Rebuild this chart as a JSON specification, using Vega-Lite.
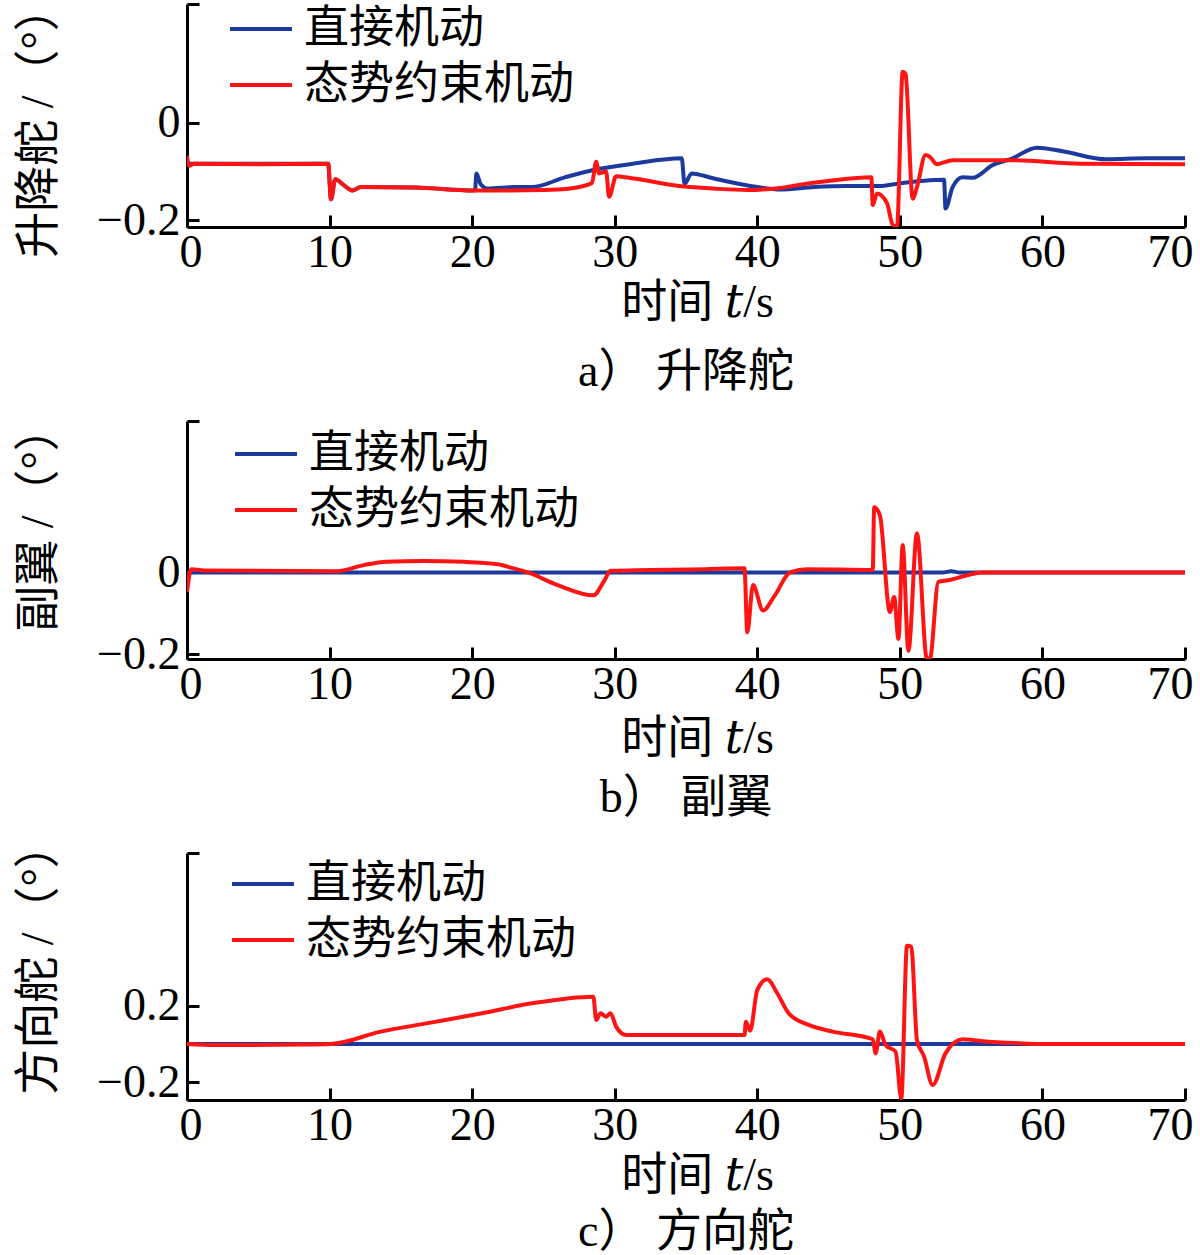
{
  "$schema": "https://vega.github.io/schema/vega-lite/v6.json",
  "background": "white",
  "padding": {"left": 15, "top": -16, "right": 0, "bottom": 0},
  "datasets": {
    "elevator": [
      {"t": 0, "v": -0.084, "s": "直接机动"},
      {"t": 9.9, "v": -0.084, "s": "直接机动"},
      {"t": 10.1, "v": -0.157, "s": "直接机动"},
      {"t": 10.4, "v": -0.116, "s": "直接机动"},
      {"t": 11.0, "v": -0.128, "s": "直接机动"},
      {"t": 11.6, "v": -0.139, "s": "直接机动"},
      {"t": 12.2, "v": -0.132, "s": "直接机动"},
      {"t": 16.0, "v": -0.133, "s": "直接机动"},
      {"t": 20.2, "v": -0.139, "s": "直接机动"},
      {"t": 20.3, "v": -0.104, "s": "直接机动"},
      {"t": 20.6, "v": -0.126, "s": "直接机动"},
      {"t": 21.1, "v": -0.135, "s": "直接机动"},
      {"t": 23.0, "v": -0.132, "s": "直接机动"},
      {"t": 24.2, "v": -0.132, "s": "直接机动"},
      {"t": 26.5, "v": -0.112, "s": "直接机动"},
      {"t": 28.5, "v": -0.097, "s": "直接机动"},
      {"t": 31.3, "v": -0.084, "s": "直接机动"},
      {"t": 34.7, "v": -0.073, "s": "直接机动"},
      {"t": 34.9, "v": -0.125, "s": "直接机动"},
      {"t": 35.4, "v": -0.104, "s": "直接机动"},
      {"t": 36.9, "v": -0.114, "s": "直接机动"},
      {"t": 40.0, "v": -0.132, "s": "直接机动"},
      {"t": 41.6, "v": -0.137, "s": "直接机动"},
      {"t": 44.0, "v": -0.132, "s": "直接机动"},
      {"t": 46.3, "v": -0.130, "s": "直接机动"},
      {"t": 48.6, "v": -0.130, "s": "直接机动"},
      {"t": 49.8, "v": -0.125, "s": "直接机动"},
      {"t": 53.1, "v": -0.117, "s": "直接机动"},
      {"t": 53.2, "v": -0.176, "s": "直接机动"},
      {"t": 53.7, "v": -0.132, "s": "直接机动"},
      {"t": 54.4, "v": -0.112, "s": "直接机动"},
      {"t": 55.1, "v": -0.113, "s": "直接机动"},
      {"t": 56.5, "v": -0.087, "s": "直接机动"},
      {"t": 57.9, "v": -0.073, "s": "直接机动"},
      {"t": 59.6, "v": -0.051, "s": "直接机动"},
      {"t": 61.5, "v": -0.059, "s": "直接机动"},
      {"t": 64.5, "v": -0.075, "s": "直接机动"},
      {"t": 67.3, "v": -0.073, "s": "直接机动"},
      {"t": 70.0, "v": -0.073, "s": "直接机动"},
      {"t": 0, "v": -0.068, "s": "态势约束机动"},
      {"t": 0.15, "v": -0.088, "s": "态势约束机动"},
      {"t": 0.5, "v": -0.084, "s": "态势约束机动"},
      {"t": 5.0, "v": -0.085, "s": "态势约束机动"},
      {"t": 9.9, "v": -0.084, "s": "态势约束机动"},
      {"t": 10.1, "v": -0.157, "s": "态势约束机动"},
      {"t": 10.4, "v": -0.116, "s": "态势约束机动"},
      {"t": 11.0, "v": -0.128, "s": "态势约束机动"},
      {"t": 11.6, "v": -0.139, "s": "态势约束机动"},
      {"t": 12.2, "v": -0.132, "s": "态势约束机动"},
      {"t": 16.0, "v": -0.133, "s": "态势约束机动"},
      {"t": 20.0, "v": -0.139, "s": "态势约束机动"},
      {"t": 22.0, "v": -0.139, "s": "态势约束机动"},
      {"t": 25.0, "v": -0.138, "s": "态势约束机动"},
      {"t": 26.6, "v": -0.136, "s": "态势约束机动"},
      {"t": 28.4, "v": -0.124, "s": "态势约束机动"},
      {"t": 28.7, "v": -0.080, "s": "态势约束机动"},
      {"t": 28.9, "v": -0.104, "s": "态势约束机动"},
      {"t": 29.4, "v": -0.100, "s": "态势约束机动"},
      {"t": 29.6, "v": -0.152, "s": "态势约束机动"},
      {"t": 30.1, "v": -0.110, "s": "态势约束机动"},
      {"t": 31.0, "v": -0.113, "s": "态势约束机动"},
      {"t": 34.9, "v": -0.131, "s": "态势约束机动"},
      {"t": 36.9, "v": -0.135, "s": "态势约束机动"},
      {"t": 39.3, "v": -0.138, "s": "态势约束机动"},
      {"t": 41.6, "v": -0.134, "s": "态势约束机动"},
      {"t": 42.8, "v": -0.128, "s": "态势约束机动"},
      {"t": 45.1, "v": -0.119, "s": "态势约束机动"},
      {"t": 48.0, "v": -0.112, "s": "态势约束机动"},
      {"t": 48.1, "v": -0.169, "s": "态势约束机动"},
      {"t": 48.4, "v": -0.145, "s": "态势约束机动"},
      {"t": 49.1, "v": -0.165, "s": "态势约束机动"},
      {"t": 49.5, "v": -0.210, "s": "态势约束机动"},
      {"t": 49.8, "v": -0.214, "s": "态势约束机动"},
      {"t": 50.2, "v": 0.105, "s": "态势约束机动"},
      {"t": 50.4, "v": 0.100, "s": "态势约束机动"},
      {"t": 50.9, "v": -0.156, "s": "态势约束机动"},
      {"t": 51.2, "v": -0.132, "s": "态势约束机动"},
      {"t": 51.8, "v": -0.066, "s": "态势约束机动"},
      {"t": 52.1, "v": -0.070, "s": "态势约束机动"},
      {"t": 52.6, "v": -0.085, "s": "态势约束机动"},
      {"t": 53.7, "v": -0.077, "s": "态势约束机动"},
      {"t": 57.9, "v": -0.077, "s": "态势约束机动"},
      {"t": 62.7, "v": -0.084, "s": "态势约束机动"},
      {"t": 70.0, "v": -0.085, "s": "态势约束机动"}
    ],
    "aileron": [
      {"t": 0, "v": 0, "s": "直接机动"},
      {"t": 53.0, "v": 0, "s": "直接机动"},
      {"t": 53.6, "v": 0.003, "s": "直接机动"},
      {"t": 54.2, "v": 0, "s": "直接机动"},
      {"t": 70.0, "v": 0, "s": "直接机动"},
      {"t": 0, "v": -0.048, "s": "态势约束机动"},
      {"t": 0.3, "v": 0.008, "s": "态势约束机动"},
      {"t": 1.2, "v": 0.005, "s": "态势约束机动"},
      {"t": 10.5, "v": 0.003, "s": "态势约束机动"},
      {"t": 12.4, "v": 0.018, "s": "态势约束机动"},
      {"t": 14.0, "v": 0.026, "s": "态势约束机动"},
      {"t": 16.6, "v": 0.028, "s": "态势约束机动"},
      {"t": 19.4, "v": 0.026, "s": "态势约束机动"},
      {"t": 21.8, "v": 0.020, "s": "态势约束机动"},
      {"t": 22.9, "v": 0.010, "s": "态势约束机动"},
      {"t": 23.9, "v": 0.0, "s": "态势约束机动"},
      {"t": 26.0, "v": -0.031, "s": "态势约束机动"},
      {"t": 28.5, "v": -0.056, "s": "态势约束机动"},
      {"t": 29.3, "v": -0.018, "s": "态势约束机动"},
      {"t": 29.7, "v": 0.004, "s": "态势约束机动"},
      {"t": 36.3, "v": 0.008, "s": "态势约束机动"},
      {"t": 39.1, "v": 0.010, "s": "态势约束机动"},
      {"t": 39.3, "v": -0.147, "s": "态势约束机动"},
      {"t": 39.7, "v": -0.031, "s": "态势约束机动"},
      {"t": 40.4, "v": -0.093, "s": "态势约束机动"},
      {"t": 41.2, "v": -0.058, "s": "态势约束机动"},
      {"t": 42.3, "v": 0.0, "s": "态势约束机动"},
      {"t": 43.5, "v": 0.008, "s": "态势约束机动"},
      {"t": 48.1, "v": 0.006, "s": "态势约束机动"},
      {"t": 48.2, "v": 0.160, "s": "态势约束机动"},
      {"t": 48.6, "v": 0.140, "s": "态势约束机动"},
      {"t": 49.3, "v": -0.097, "s": "态势约束机动"},
      {"t": 49.6, "v": -0.060, "s": "态势约束机动"},
      {"t": 49.9, "v": -0.163, "s": "态势约束机动"},
      {"t": 50.2, "v": 0.067, "s": "态势约束机动"},
      {"t": 50.6, "v": -0.192, "s": "态势约束机动"},
      {"t": 51.2, "v": 0.096, "s": "态势约束机动"},
      {"t": 51.9, "v": -0.212, "s": "态势约束机动"},
      {"t": 52.1, "v": -0.212, "s": "态势约束机动"},
      {"t": 52.7, "v": -0.023, "s": "态势约束机动"},
      {"t": 53.4, "v": -0.019, "s": "态势约束机动"},
      {"t": 54.6, "v": -0.008, "s": "态势约束机动"},
      {"t": 55.8, "v": 0.0, "s": "态势约束机动"},
      {"t": 70.0, "v": 0.0, "s": "态势约束机动"}
    ],
    "rudder": [
      {"t": 0, "v": 0, "s": "直接机动"},
      {"t": 70.0, "v": 0, "s": "直接机动"},
      {"t": 0, "v": 0.0, "s": "态势约束机动"},
      {"t": 2.0, "v": -0.005, "s": "态势约束机动"},
      {"t": 8.0, "v": -0.003, "s": "态势约束机动"},
      {"t": 10.1, "v": 0.0, "s": "态势约束机动"},
      {"t": 13.6, "v": 0.065, "s": "态势约束机动"},
      {"t": 17.1, "v": 0.112, "s": "态势约束机动"},
      {"t": 20.7, "v": 0.161, "s": "态势约束机动"},
      {"t": 24.2, "v": 0.213, "s": "态势约束机动"},
      {"t": 28.5, "v": 0.248, "s": "态势约束机动"},
      {"t": 28.7, "v": 0.126, "s": "态势约束机动"},
      {"t": 29.0, "v": 0.161, "s": "态势约束机动"},
      {"t": 29.4, "v": 0.143, "s": "态势约束机动"},
      {"t": 29.7, "v": 0.161, "s": "态势约束机动"},
      {"t": 30.1, "v": 0.091, "s": "态势约束机动"},
      {"t": 30.8, "v": 0.047, "s": "态势约束机动"},
      {"t": 32.5, "v": 0.047, "s": "态势约束机动"},
      {"t": 39.1, "v": 0.047, "s": "态势约束机动"},
      {"t": 39.2, "v": 0.117, "s": "态势约束机动"},
      {"t": 39.5, "v": 0.070, "s": "态势约束机动"},
      {"t": 40.0, "v": 0.283, "s": "态势约束机动"},
      {"t": 40.7, "v": 0.339, "s": "态势约束机动"},
      {"t": 41.4, "v": 0.266, "s": "态势约束机动"},
      {"t": 42.2, "v": 0.161, "s": "态势约束机动"},
      {"t": 43.6, "v": 0.100, "s": "态势约束机动"},
      {"t": 45.3, "v": 0.065, "s": "态势约束机动"},
      {"t": 48.1, "v": 0.025, "s": "态势约束机动"},
      {"t": 48.3, "v": -0.049, "s": "态势约束机动"},
      {"t": 48.6, "v": 0.065, "s": "态势约束机动"},
      {"t": 49.0, "v": -0.005, "s": "态势约束机动"},
      {"t": 49.7, "v": -0.040, "s": "态势约束机动"},
      {"t": 50.1, "v": -0.285, "s": "态势约束机动"},
      {"t": 50.5, "v": 0.514, "s": "态势约束机动"},
      {"t": 50.8, "v": 0.510, "s": "态势约束机动"},
      {"t": 51.2, "v": 0.021, "s": "态势约束机动"},
      {"t": 51.7, "v": -0.066, "s": "态势约束机动"},
      {"t": 52.3, "v": -0.215, "s": "态势约束机动"},
      {"t": 53.2, "v": -0.049, "s": "态势约束机动"},
      {"t": 54.4, "v": 0.025, "s": "态势约束机动"},
      {"t": 55.8, "v": 0.015, "s": "态势约束机动"},
      {"t": 58.2, "v": 0.005, "s": "态势约束机动"},
      {"t": 60.5, "v": 0.0, "s": "态势约束机动"},
      {"t": 70.0, "v": 0.0, "s": "态势约束机动"}
    ]
  },
  "spacing": 194,
  "bounds": "flush",
  "resolve": {
    "scale": {"y": "independent", "color": "independent"},
    "axis": {"x": "independent", "y": "independent"},
    "legend": {"color": "independent"}
  },
  "vconcat": [
    {
      "width": 998,
      "height": 223,
      "data": {"name": "elevator"},
      "title": {"text": "a） 升降舵", "offset": 25},
      "mark": {"type": "line", "strokeWidth": 4, "clip": true, "interpolate": "monotone"},
      "encoding": {
        "x": {
          "field": "t", "type": "quantitative",
          "scale": {"domain": [0, 70], "nice": false, "zero": false},
          "axis": {"values": [0, 10, 20, 30, 40, 50, 60, 70], "title": "时间 𝑡/s"}
        },
        "y": {
          "field": "v", "type": "quantitative",
          "scale": {"domain": [-0.214, 0.244], "nice": false, "zero": false},
          "axis": {
            "values": [-0.2, 0, 0.244],
            "format": ".1~f",
            "labelExpr": "datum.value > 0.1 ? '' : datum.label",
            "title": "升降舵 /（°）",
            "titleY": 117
          }
        },
        "color": {
          "field": "s", "type": "nominal",
          "scale": {"domain": ["直接机动", "态势约束机动"], "range": ["#1c3a9e", "#ff1414"]},
          "legend": {"legendX": 41, "legendY": -8}
        }
      }
    },
    {
      "width": 998,
      "height": 238,
      "data": {"name": "aileron"},
      "title": {"text": "b） 副翼", "offset": 15},
      "mark": {"type": "line", "strokeWidth": 4, "clip": true, "interpolate": "monotone"},
      "encoding": {
        "x": {
          "field": "t", "type": "quantitative",
          "scale": {"domain": [0, 70], "nice": false, "zero": false},
          "axis": {"values": [0, 10, 20, 30, 40, 50, 60, 70], "title": "时间 𝑡/s", "titlePadding": 9}
        },
        "y": {
          "field": "v", "type": "quantitative",
          "scale": {"domain": [-0.212, 0.371], "nice": false, "zero": false},
          "axis": {
            "values": [-0.2, 0, 0.371],
            "format": ".1~f",
            "labelExpr": "datum.value > 0.1 ? '' : datum.label",
            "title": "副翼 /（°）",
            "titleY": 97
          }
        },
        "color": {
          "field": "s", "type": "nominal",
          "scale": {"domain": ["直接机动", "态势约束机动"], "range": ["#1c3a9e", "#ff1414"]},
          "legend": {"legendX": 46, "legendY": 0}
        }
      }
    },
    {
      "width": 998,
      "height": 247,
      "data": {"name": "rudder"},
      "title": {"text": "c） 方向舵", "offset": 12},
      "mark": {"type": "line", "strokeWidth": 4, "clip": true, "interpolate": "monotone"},
      "encoding": {
        "x": {
          "field": "t", "type": "quantitative",
          "scale": {"domain": [0, 70], "nice": false, "zero": false},
          "axis": {"values": [0, 10, 20, 30, 40, 50, 60, 70], "title": "时间 𝑡/s"}
        },
        "y": {
          "field": "v", "type": "quantitative",
          "scale": {"domain": [-0.293, 1.0], "nice": false, "zero": false},
          "axis": {
            "values": [-0.2, 0.2, 1.0],
            "format": ".1~f",
            "labelExpr": "datum.value > 0.5 ? '' : datum.label",
            "title": "方向舵 /（°）",
            "titleY": 105
          }
        },
        "color": {
          "field": "s", "type": "nominal",
          "scale": {"domain": ["直接机动", "态势约束机动"], "range": ["#1c3a9e", "#ff1414"]},
          "legend": {"legendX": 43, "legendY": -2}
        }
      }
    }
  ],
  "config": {
    "font": "Liberation Serif, DejaVu Serif, Noto Sans CJK SC",
    "view": {"stroke": null},
    "axis": {
      "grid": false,
      "domainColor": "black",
      "domainWidth": 3,
      "tickColor": "black",
      "tickWidth": 3,
      "tickSize": -12,
      "labelFont": "Liberation Serif, DejaVu Serif, Noto Sans CJK SC",
      "labelFontSize": 46,
      "labelColor": "black",
      "titleFont": "Liberation Serif, DejaVu Serif, Noto Sans CJK SC",
      "titleFontSize": 46,
      "titleFontWeight": "normal",
      "titleColor": "black"
    },
    "axisX": {"labelFlush": true, "labelFlushOffset": 8, "labelPadding": 15, "titlePadding": 5, "titleX": 510},
    "axisY": {"labelPadding": 19, "titleX": -149, "titleBaseline": "middle", "titleAlign": "center"},
    "legend": {
      "orient": "none",
      "title": null,
      "symbolType": "stroke",
      "symbolSize": 3844,
      "symbolStrokeWidth": 4,
      "labelFont": "Noto Sans CJK SC",
      "labelFontSize": 45,
      "labelColor": "black",
      "labelLimit": 0,
      "labelOffset": 10,
      "rowPadding": 0,
      "padding": 0
    },
    "title": {
      "orient": "bottom",
      "anchor": "middle",
      "font": "Liberation Serif, DejaVu Serif, Noto Sans CJK SC",
      "fontSize": 46,
      "fontWeight": "normal",
      "color": "black"
    }
  }
}
